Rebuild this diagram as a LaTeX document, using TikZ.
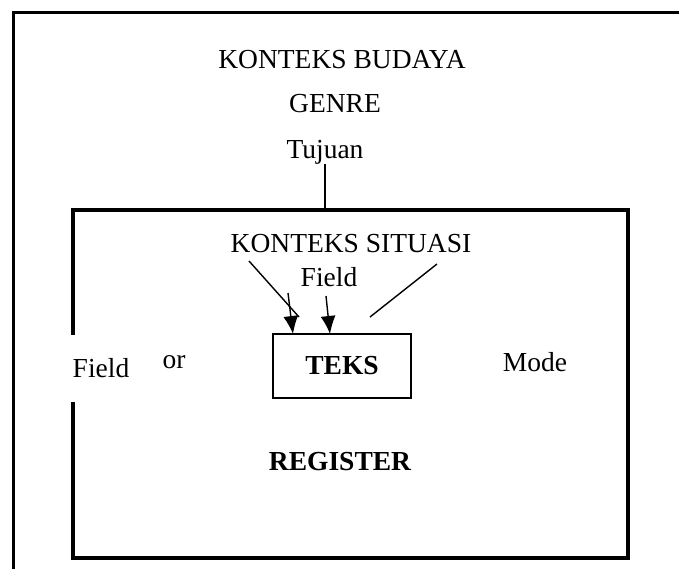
\documentclass[tikz,border=0pt]{standalone}
\usepackage{fontspec}
\setmainfont{Liberation Serif}
\usetikzlibrary{arrows.meta,positioning}

\begin{document}
\begin{tikzpicture}[x=1pt,y=-1pt,>={Latex[length=18pt,width=15pt]},
    txt/.style={inner sep=0pt,font=\fontsize{27.5}{32}\selectfont},
    bold/.style={txt,font=\fontsize{27.5}{32}\selectfont\bfseries},
    frame/.style={draw,line width=4pt,minimum width=555pt,minimum height=348pt},
    box/.style={draw,line width=1.5pt,minimum width=138pt,minimum height=64pt},
    link/.style={line width=1.4pt}]

  \useasboundingbox (0,0) rectangle (679,569);

  % outer frame: only left and top sides show
  \draw[line width=3pt] (13,569) |- (679,13);

  \node[txt] (budaya) at (342,60)  {KONTEKS BUDAYA};
  \node[txt] (genre)  at (335,104) {GENRE};
  \node[txt] (tujuan) at (325,152) {Tujuan};

  \node[frame] (register) at (350.5,384) {};
  \node[txt]   (situasi)  at (351,244) {KONTEKS SITUASI};
  \node[txt]   (field)    at (329,277) {Field};
  \node[box]   (teks)     at (342,366) {};
  \node[bold]  (tekslbl)  at (teks)    {TEKS};
  \node[txt]   (or)       at (174,362) {or};
  \node[txt]   (mode)     at (535,362) {Mode};
  \node[bold]  (reg)      at (340,462) {REGISTER};
  \node[txt,fill=white,inner xsep=4pt,minimum height=67pt] (fieldl) at (101,368) {Field};

  \coordinate (a1) at (249,261);  \coordinate (a2) at (299,317);
  \coordinate (b1) at (288,293);  \coordinate (b2) at (293,334);
  \coordinate (c1) at (326,296);  \coordinate (c2) at (330,334);
  \coordinate (d1) at (437,264);  \coordinate (d2) at (370,317);

  \draw[link] (tujuan.south) -- (tujuan.south |- register.north);
  \draw[link] (a1) -- (a2);
  \draw[link] (d1) -- (d2);
  \draw[link,->] (b1) -- (b2);
  \draw[link,->] (c1) -- (c2);
\end{tikzpicture}
\end{document}
